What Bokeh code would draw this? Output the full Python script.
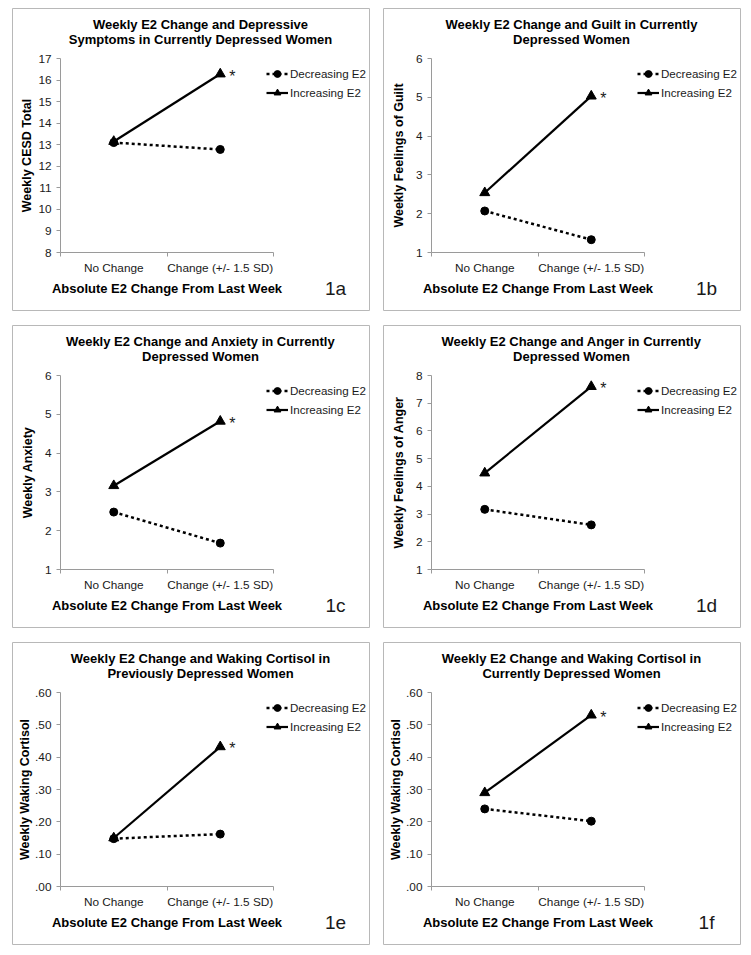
from bokeh.plotting import figure
from bokeh.models import FixedTicker, Label, Legend, LegendItem, Range1d, Spacer
from bokeh.layouts import row, column
from bokeh.embed import file_html
from bokeh.resources import INLINE
from bokeh.core.properties import value

# ---------------- data ----------------
categories = ["No Change", "Change (+/- 1.5 SD)"]
series_names = ["Decreasing E2", "Increasing E2"]
x_title = "Absolute E2 Change From Last Week"

title_1a = ["Weekly E2 Change and Depressive", "Symptoms in Currently Depressed Women"]
ylabel_1a = "Weekly CESD Total"
dec_1a = [13.10, 12.78]
inc_1a = [13.15, 16.28]
yticks_1a = [8, 9, 10, 11, 12, 13, 14, 15, 16, 17]
ytick_labels_1a = ["8", "9", "10", "11", "12", "13", "14", "15", "16", "17"]

title_1b = ["Weekly E2 Change and Guilt in Currently", "Depressed Women"]
ylabel_1b = "Weekly Feelings of Guilt"
dec_1b = [2.07, 1.33]
inc_1b = [2.54, 5.03]
yticks_1b = [1, 2, 3, 4, 5, 6]
ytick_labels_1b = ["1", "2", "3", "4", "5", "6"]

title_1c = ["Weekly E2 Change and Anxiety in Currently", "Depressed Women"]
ylabel_1c = "Weekly Anxiety"
dec_1c = [2.48, 1.68]
inc_1c = [3.16, 4.82]
yticks_1c = [1, 2, 3, 4, 5, 6]
ytick_labels_1c = ["1", "2", "3", "4", "5", "6"]

title_1d = ["Weekly E2 Change and Anger in Currently", "Depressed Women"]
ylabel_1d = "Weekly Feelings of Anger"
dec_1d = [3.17, 2.61]
inc_1d = [4.48, 7.60]
yticks_1d = [1, 2, 3, 4, 5, 6, 7, 8]
ytick_labels_1d = ["1", "2", "3", "4", "5", "6", "7", "8"]

title_1e = ["Weekly E2 Change and Waking Cortisol in", "Previously Depressed Women"]
ylabel_1e = "Weekly Waking Cortisol"
dec_1e = [0.148, 0.162]
inc_1e = [0.150, 0.432]
yticks_1e = [0.0, 0.1, 0.2, 0.3, 0.4, 0.5, 0.6]
ytick_labels_1e = [".00", ".10", ".20", ".30", ".40", ".50", ".60"]

title_1f = ["Weekly E2 Change and Waking Cortisol in", "Currently Depressed Women"]
ylabel_1f = "Weekly Waking Cortisol"
dec_1f = [0.240, 0.202]
inc_1f = [0.290, 0.530]
yticks_1f = [0.0, 0.1, 0.2, 0.3, 0.4, 0.5, 0.6]
ytick_labels_1f = [".00", ".10", ".20", ".30", ".40", ".50", ".60"]

tags = ["1a", "1b", "1c", "1d", "1e", "1f"]

# ---------------- styling / layout ----------------
FONT = "Liberation Sans"
AXC = "#9a9a9a"
TXT = "#1a1a1a"
W, H = 358, 303
# plot-area edges inside each panel (pixels from panel's left / top)
PL, PR, PT, PB = 48, 261, 50, 244
TICK_PX = 11.8
YTITLE_DIST = 30  # distance of the y-axis title from the axis line


def text_width(s, size):
    # rough Arial advance widths (em units) for the tick-label characters
    return sum((0.278 if ch in ".," else 0.556) for ch in s) * size


def panel(title_lines, ylabel, tag, dec, inc, yticks, ylabels):
    n = len(categories)
    xs = [i + 0.5 for i in range(n)]
    ymin, ymax = yticks[0], yticks[-1]
    sx = (PR - PL) / n
    sy = (PB - PT) / (ymax - ymin)
    p = figure(width=W, height=H, output_backend="svg", toolbar_location=None,
               x_range=Range1d(-PL / sx, n + (W - PR) / sx),
               y_range=Range1d(ymin - (H - PB) / sy, ymax + PT / sy),
               min_border_left=0, min_border_right=0,
               min_border_top=0, min_border_bottom=0)
    p.outline_line_color = "#b8b8b8"
    p.outline_line_width = 1
    p.grid.visible = False
    p.background_fill_color = "white"
    p.border_fill_color = "white"

    # x axis
    ax = p.xaxis[0]
    ax.fixed_location = ymin
    ax.bounds = (0, n)
    ax.ticker = FixedTicker(ticks=xs, minor_ticks=list(range(n + 1)))
    ax.major_label_overrides = {x: c for x, c in zip(xs, categories)}
    ax.major_tick_in = 0
    ax.major_tick_out = 0
    ax.minor_tick_in = 0
    ax.minor_tick_out = 4
    ax.axis_line_color = AXC
    ax.minor_tick_line_color = AXC
    ax.major_label_text_font = FONT
    ax.major_label_text_font_size = f"{TICK_PX}px"
    ax.major_label_text_color = TXT
    ax.major_label_standoff = 4
    ax.axis_label = x_title
    ax.axis_label_text_font = FONT
    ax.axis_label_text_font_size = "13px"
    ax.axis_label_text_font_style = "bold"
    ax.axis_label_text_color = "black"
    ax.axis_label_standoff = 3

    # y axis
    ay = p.yaxis[0]
    ay.fixed_location = 0
    ay.bounds = (ymin, ymax)
    ay.ticker = FixedTicker(ticks=yticks)
    ay.major_label_overrides = {t: l for t, l in zip(yticks, ylabels)}
    ay.major_tick_in = 0
    ay.major_tick_out = 4
    ay.minor_tick_line_color = None
    ay.axis_line_color = AXC
    ay.major_tick_line_color = AXC
    ay.major_label_text_font = FONT
    ay.major_label_text_font_size = f"{TICK_PX}px"
    ay.major_label_text_color = TXT
    ay.major_label_standoff = 5
    ay.axis_label = ylabel
    ay.axis_label_text_font = FONT
    ay.axis_label_text_font_size = "12.5px"
    ay.axis_label_text_font_style = "bold"
    ay.axis_label_text_color = "black"
    wmax = max(text_width(s, TICK_PX) for s in ylabels)
    ay.axis_label_standoff = max(0, int(round(YTITLE_DIST - (4 + 5 + wmax + 7))))

    # series
    rd_line = p.line(xs, dec, line_color="black", line_width=2.5, line_dash="3 3")
    rd_pts = p.scatter(xs, dec, marker="circle", size=8, color="black")
    ri_line = p.line(xs, inc, line_color="black", line_width=2.2)
    ri_pts = p.scatter(xs, inc, marker="triangle", size=10, color="black")

    # significance star
    p.text(x=[xs[-1]], y=[inc[-1]], text=["*"], x_offset=9, y_offset=2,
           text_font=value(FONT), text_font_size="16px", text_baseline="middle",
           text_color=TXT)

    legend = Legend(items=[LegendItem(label=series_names[0], renderers=[rd_line, rd_pts]),
                           LegendItem(label=series_names[1], renderers=[ri_line, ri_pts])],
                    location=(254, H - 92.5), glyph_width=22, glyph_height=17,
                    label_height=17, spacing=2, padding=0, margin=0,
                    border_line_color=None, background_fill_alpha=0,
                    label_standoff=2, label_text_font=FONT,
                    label_text_font_size="11.6px", label_text_color=TXT)
    p.add_layout(legend)

    for i, line in enumerate(title_lines):
        p.add_layout(Label(x=188, y=H - 16 - 15 * i, x_units="screen", y_units="screen",
                           text=line, text_align="center", text_baseline="middle",
                           text_font=FONT, text_font_size="13px",
                           text_font_style="bold", text_color="black"))
    p.add_layout(Label(x=323, y=H - 280, x_units="screen", y_units="screen", text=tag,
                       text_align="center", text_baseline="middle", text_font=FONT,
                       text_font_size="19px", text_color=TXT))
    return p


p1 = panel(title_1a, ylabel_1a, tags[0], dec_1a, inc_1a, yticks_1a, ytick_labels_1a)
p2 = panel(title_1b, ylabel_1b, tags[1], dec_1b, inc_1b, yticks_1b, ytick_labels_1b)
p3 = panel(title_1c, ylabel_1c, tags[2], dec_1c, inc_1c, yticks_1c, ytick_labels_1c)
p4 = panel(title_1d, ylabel_1d, tags[3], dec_1d, inc_1d, yticks_1d, ytick_labels_1d)
p5 = panel(title_1e, ylabel_1e, tags[4], dec_1e, inc_1e, yticks_1e, ytick_labels_1e)
p6 = panel(title_1f, ylabel_1f, tags[5], dec_1f, inc_1f, yticks_1f, ytick_labels_1f)

grid = column(row(p1, p2, spacing=13), row(p3, p4, spacing=13), row(p5, p6, spacing=13),
              spacing=14)
layout = column(Spacer(width=10, height=8), row(Spacer(width=12, height=10), grid))

open("out.html", "w").write(file_html(layout, INLINE))
